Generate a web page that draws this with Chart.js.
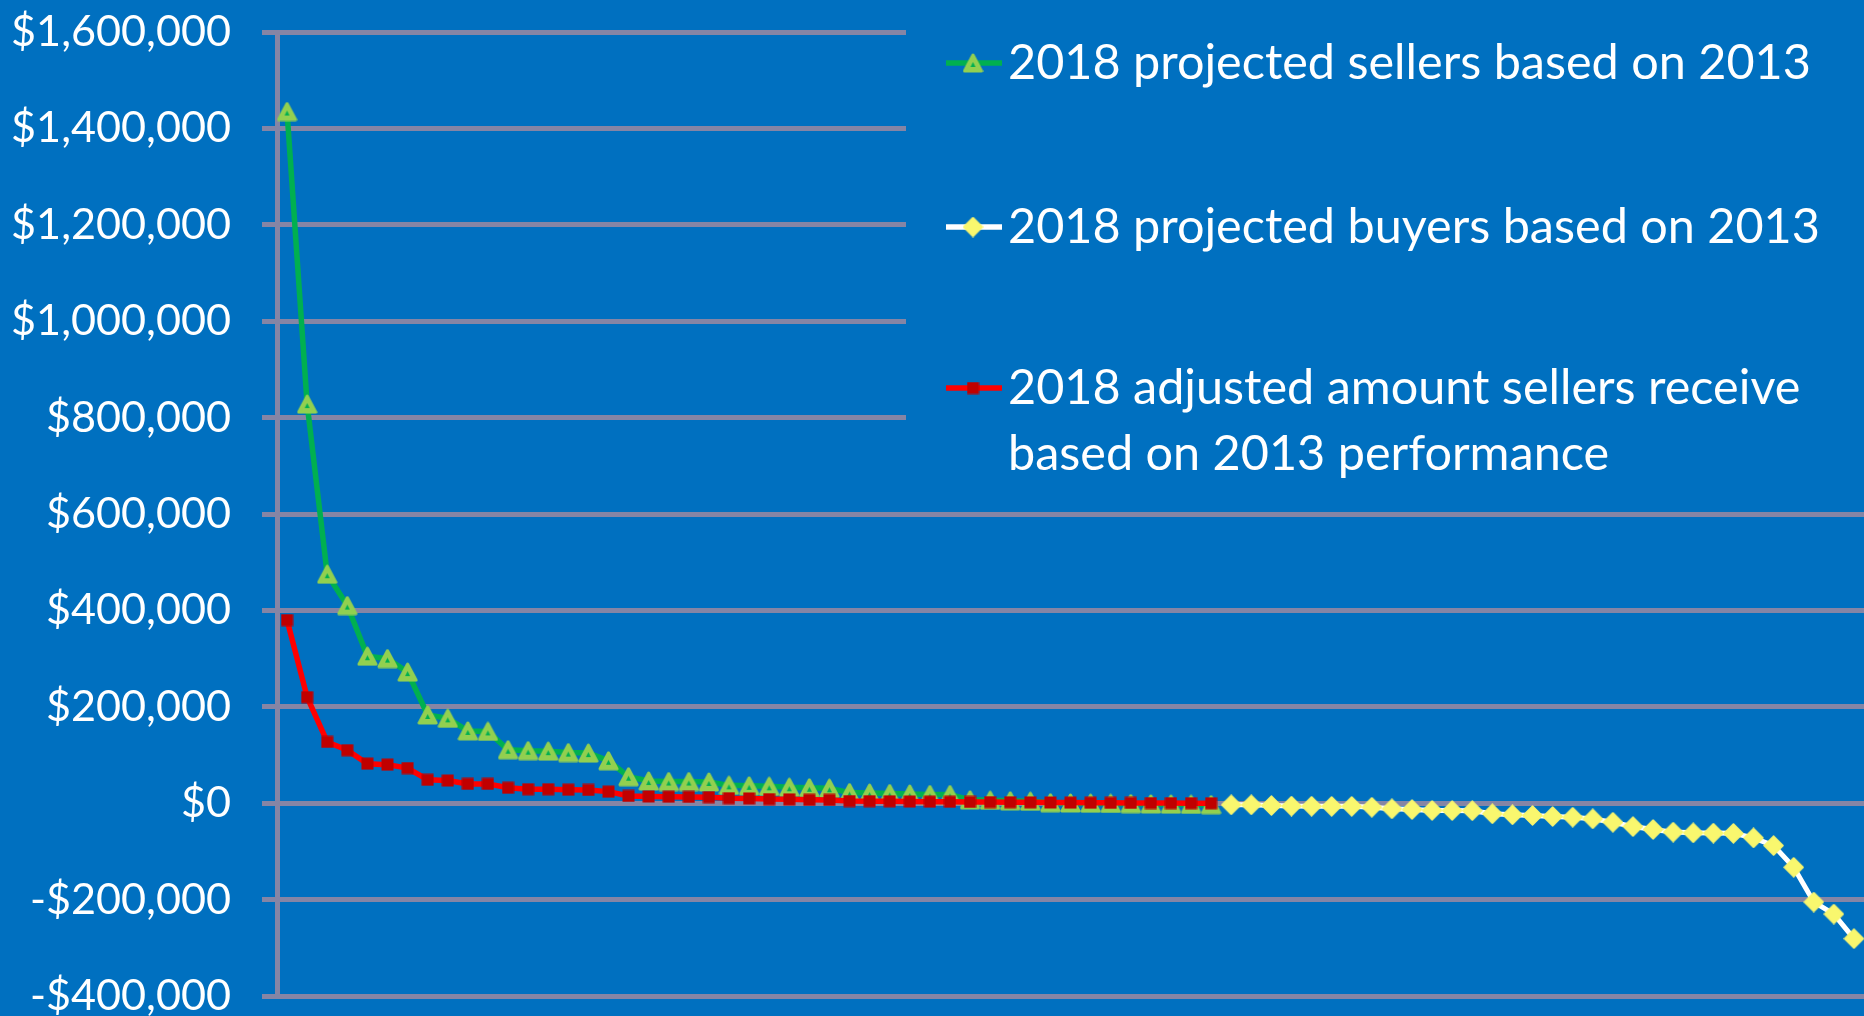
<!DOCTYPE html>
<html>
<head>
<meta charset="utf-8">
<title>2018 projected sellers and buyers</title>
<script src="https://cdn.jsdelivr.net/npm/chart.js@4/dist/chart.umd.min.js"></script>
<style>
  html, body { margin: 0; padding: 0; background: #0070C0; overflow: hidden; }
  #wrap { width: 1864px; height: 1016px; }
</style>
</head>
<body>
<div id="wrap"><canvas id="graph"></canvas></div>
<script>
// values, sorted largest to smallest
var sellers = [1435000, 828000, 475000, 410000, 305000, 300000, 272000, 183000, 176000, 150000,
  149000, 111000, 109000, 108000, 105000, 104000, 88000, 55000, 46000, 45000,
  45000, 44000, 37000, 36000, 35000, 33000, 32000, 31000, 22000, 21000,
  20000, 19000, 18000, 18000, 7000, 6000, 5000, 4000, 1000, 500,
  0, -500, -1000, -1500, -2000, -2500, -3000];
var adjusted = [380000, 220000, 127000, 110000, 82000, 80000, 73000, 48500, 47000, 40000,
  40000, 32000, 29000, 29000, 28000, 27500, 24000, 15000, 14000, 13500,
  13000, 12500, 10500, 10000, 8500, 8000, 7000, 6800, 4500, 4200,
  4000, 3500, 3200, 3000, 2500, 2300, 2000, 1800, 1500, 1200,
  1000, 800, 600, 400, 200, 100, 0];
var buyers = [-3400, -3400, -4800, -6000, -6200, -6500, -6500, -8300, -11700, -13100,
  -15000, -15200, -15500, -22000, -24000, -25500, -27500, -29000, -32500, -39500,
  -48500, -54500, -60000, -61500, -62000, -62500, -72000, -88000, -133000, -205000,
  -230000, -281000];
var yTicks = [-400000, -200000, 0, 200000, 400000, 600000, 800000, 1000000, 1200000, 1400000, 1600000];
var legendLabels = [
  ['2018 projected sellers based on 2013'],
  ['2018 projected buyers based on 2013'],
  ['2018 adjusted amount sellers receive', 'based on 2013 performance']
];

var categories = [];
for (var i = 1; i <= sellers.length + buyers.length; i++) categories.push(i);
var buyersData = new Array(sellers.length).fill(null).concat(buyers);

function money(v) {
  var s = '$' + Math.abs(v).toLocaleString('en-US');
  return v < 0 ? '-' + s : s;
}

// pick font sizes so the text is as wide as in the picture
var measure = document.createElement('canvas').getContext('2d');
function fitSize(text, width) {
  measure.font = '100px Lato';
  return 100 * width / measure.measureText(text).width;
}
var tickSize = fitSize('$1,600,000', 220);
var legendSize = fitSize(legendLabels[0][0], 803);

function marker(w, h, draw) {
  var c = document.createElement('canvas');
  c.width = w; c.height = h;
  draw(c.getContext('2d'));
  return c;
}
var triangle = marker(21, 20, function(g) {
  g.lineJoin = 'round';
  g.fillStyle = g.strokeStyle = '#92D050';
  g.lineWidth = 3;
  g.beginPath(); g.moveTo(10.5, 2); g.lineTo(19, 18); g.lineTo(2, 18); g.closePath();
  g.fill(); g.stroke();
  g.fillStyle = '#00B050';
  g.beginPath(); g.moveTo(10.5, 9); g.lineTo(13, 14); g.lineTo(8, 14); g.closePath();
  g.fill();
});
var square = marker(13, 13, function(g) {
  g.fillStyle = '#C00000';
  g.fillRect(0.5, 0.5, 12, 12);
});
var diamond = marker(21, 21, function(g) {
  g.lineJoin = 'round';
  g.fillStyle = g.strokeStyle = '#F9F76E';
  g.lineWidth = 1.5;
  g.beginPath(); g.moveTo(10.5, 1); g.lineTo(20, 10.5); g.lineTo(10.5, 20); g.lineTo(1, 10.5); g.closePath();
  g.fill(); g.stroke();
});

var sideLegend = {
  id: 'sideLegend',
  afterDraw: function(chart) {
    var g = chart.ctx;
    var items = [
      { line: '#00B050', img: triangle, y: 63 },
      { line: '#FFFFFF', img: diamond, y: 227 },
      { line: '#FF0000', img: square, y: 388 }
    ];
    g.save();
    g.fillStyle = '#0070C0';
    g.fillRect(906, 0, chart.width - 906, 490);
    g.font = legendSize + 'px Lato';
    g.textAlign = 'left';
    g.textBaseline = 'alphabetic';
    items.forEach(function(it, k) {
      g.strokeStyle = it.line;
      g.lineWidth = 5.5;
      g.beginPath(); g.moveTo(946, it.y); g.lineTo(1002, it.y); g.stroke();
      g.drawImage(it.img, 973 - it.img.width / 2, it.y - it.img.height / 2);
      g.fillStyle = '#FFFFFF';
      legendLabels[k].forEach(function(t, j) {
        g.fillText(t, 1008, it.y + 15.5 + j * 66);
      });
    });
    g.restore();
  }
};

var ctx = document.getElementById('graph');
var myChart = new Chart(ctx, {
  type: 'line',
  data: {
    labels: categories,
    datasets: [{
      label: legendLabels[2].join(' '),
      data: adjusted,
      borderColor: '#FF0000',
      borderWidth: 5.5,
      pointStyle: square,
      pointRadius: 7,
      tension: 0,
      fill: false
    }, {
      label: legendLabels[1][0],
      data: buyersData,
      borderColor: '#FFFFFF',
      borderWidth: 5,
      pointStyle: diamond,
      pointRadius: 8,
      tension: 0,
      fill: false
    }, {
      label: legendLabels[0][0],
      data: sellers,
      borderColor: '#00B050',
      borderWidth: 5.5,
      pointStyle: triangle,
      pointRadius: 8,
      tension: 0,
      fill: false
    }]
  },
  options: {
    responsive: true,
    maintainAspectRatio: false,
    animation: false,
    layout: { autoPadding: false, padding: { top: 32, right: 0, bottom: 20, left: 0 } },
    plugins: { legend: { display: false }, tooltip: { enabled: false } },
    scales: {
      x: {
        display: false,
        offset: true
      },
      y: {
        min: -400000,
        max: 1600000,
        afterBuildTicks: function(scale) {
          scale.ticks = yTicks.map(function(v) { return { value: v }; });
        },
        afterFit: function(scale) {
          scale.width = 277;
          scale.paddingTop = 0;
          scale.paddingBottom = 0;
        },
        ticks: {
          color: '#FFFFFF',
          padding: 31,
          font: { family: 'Lato', size: tickSize },
          callback: function(v) { return money(v); }
        },
        grid: { color: '#8585A5', lineWidth: 5, tickLength: 15 },
        border: { color: '#8585A5', width: 5 }
      }
    }
  },
  plugins: [sideLegend]
});
</script>
</body>
</html>
